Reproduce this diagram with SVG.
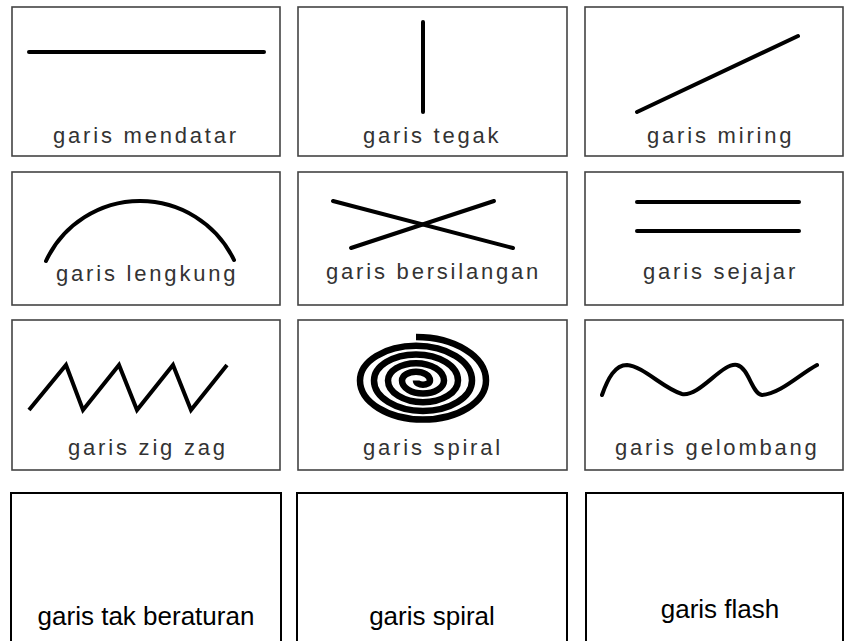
<svg xmlns="http://www.w3.org/2000/svg" width="845" height="641" viewBox="0 0 845 641">
<style>
.box{fill:#fff;stroke:#444;stroke-width:1.6}
.box2{fill:#fff;stroke:#000;stroke-width:2}
.ln{fill:none;stroke:#000;stroke-width:4;stroke-linecap:round;stroke-linejoin:round}
.lbl{font-family:"Liberation Sans",Arial,sans-serif;font-size:22px;letter-spacing:2.8px;fill:#333}
.lbl2{font-family:"Liberation Sans",Arial,sans-serif;font-size:26px;fill:#000;text-anchor:middle}
</style>
<rect width="845" height="641" fill="#fff"/>
<g id="mendatar">
<rect class="box" x="12" y="7" width="268" height="149"/>
<line class="ln" x1="29" y1="52" x2="264" y2="52"/>
<text class="lbl" x="53" y="143">garis mendatar</text>
</g>
<g id="tegak">
<rect class="box" x="298" y="7" width="269" height="149"/>
<line class="ln" x1="423" y1="22" x2="423" y2="112"/>
<text class="lbl" x="363" y="143">garis tegak</text>
</g>
<g id="miring">
<rect class="box" x="585" y="7" width="258" height="149"/>
<line class="ln" x1="637" y1="112" x2="798" y2="36"/>
<text class="lbl" x="647" y="143">garis miring</text>
</g>
<g id="lengkung">
<rect class="box" x="12" y="172" width="268" height="133"/>
<path class="ln" d="M46 261 A104 104 0 0 1 234 260"/>
<text class="lbl" x="56" y="281">garis lengkung</text>
</g>
<g id="bersilangan">
<rect class="box" x="298" y="172" width="269" height="133"/>
<line class="ln" x1="333" y1="201" x2="513" y2="248"/>
<line class="ln" x1="351" y1="248" x2="494" y2="201"/>
<text class="lbl" x="326" y="279">garis bersilangan</text>
</g>
<g id="sejajar">
<rect class="box" x="585" y="172" width="258" height="133"/>
<line class="ln" x1="637" y1="202" x2="799" y2="202"/>
<line class="ln" x1="637" y1="231" x2="799" y2="231"/>
<text class="lbl" x="643" y="279">garis sejajar</text>
</g>
<g id="zigzag">
<rect class="box" x="12" y="320" width="268" height="150"/>
<polyline class="ln" style="stroke-linejoin:miter;stroke-linecap:butt" points="29,410 66,365 83,410 119,365 137,410 173,365 191,410 227,365"/>
<text class="lbl" x="68" y="455">garis zig zag</text>
</g>
<g id="spiral">
<rect class="box" x="298" y="320" width="269" height="150"/>
<path fill="none" stroke="#000" stroke-width="6.5" d="M416 380.5 A7 4.34 0 0 0 430 380.5 A14 8.68 0 0 0 402 380.5 A21 13.02 0 0 0 444 380.5 A28 17.36 0 0 0 388 380.5 A35 21.7 0 0 0 458 380.5 A42 26.04 0 0 0 374 380.5 A49 30.38 0 0 0 472 380.5 A56 34.72 0 0 0 360 380.5 A63 39.06 0 0 0 486 380.5 A70 43.4 0 0 0 416 337.1"/>
<text class="lbl" x="363" y="455">garis spiral</text>
</g>
<g id="gelombang">
<rect class="box" x="585" y="320" width="258" height="150"/>
<path class="ln" d="M602 395 C608 378 615 365 627 365 C643 366 664 389 682 394 C700 397 722 362 737 365 C749 368 752 394 762 395 C780 394 800 374 817 365"/>
<text class="lbl" x="615" y="455">garis gelombang</text>
</g>
<g id="takberaturan">
<rect class="box2" x="11" y="493" width="270" height="160"/>
<text class="lbl2" x="146" y="625">garis tak beraturan</text>
</g>
<g id="spiral2">
<rect class="box2" x="297" y="493" width="270" height="160"/>
<text class="lbl2" x="432" y="625">garis spiral</text>
</g>
<g id="flash">
<rect class="box2" x="586" y="493" width="257" height="160"/>
<text class="lbl2" x="720" y="618">garis flash</text>
</g>
<g id="connectors"/>
</svg>
